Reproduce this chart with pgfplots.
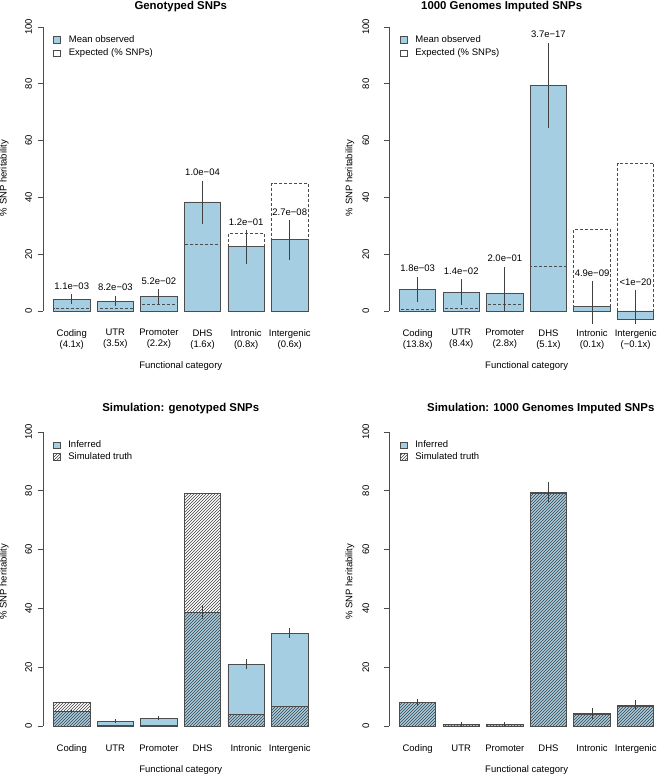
\documentclass[border=0pt]{standalone}
\usepackage{fontspec}
\setmainfont{Liberation Sans}
\usepackage{pgfplots}
\pgfplotsset{compat=1.18}
\usetikzlibrary{patterns}

\definecolor{barblue}{HTML}{A6CEE3}
\newcommand\fs{\fontsize{9.5}{11}\selectfont}
\newcommand\ts{\fontsize{11.4}{13}\selectfont\bfseries}

\pgfplotsset{
  panel/.style={
    scale only axis, width=274.7pt,
    xmin=-0.65, xmax=5.65, ymin=-5, ymax=105,
    axis line style={draw=none},
    xtick={0,...,5}, ytick={0,20,...,100},
    tick align=outside, tick pos=left,
    major tick length=5.7pt,
    x tick style={draw=none},
    y tick style={black!70, line width=0.7pt},
    font=\fs,
    /pgf/number format/assume math mode=true,
    xticklabel style={align=center, font=\fs, yshift=5pt},
    yticklabel style={rotate=90, anchor=south, inner sep=0pt, font=\fs},
    ylabel={\% SNP heritability},
    xlabel={Functional category},
    title style={font=\ts},
    every axis title shift=0pt,
    legend image code/.code={\draw[##1] (0pt,-3.3pt) rectangle (6.7pt,3.3pt); \path (15pt,0pt);},
    legend style={draw=none, fill=none, inner sep=0pt, font=\fs,
      nodes={inner sep=0pt, text height=7pt, text depth=2pt}, cells={anchor=west}},
    clip=false,
  },
  toprow/.style={height=312.4pt,
    every axis x label/.style={at={(axis description cs:0.5,-0.1296)}, anchor=center},
    every axis y label/.style={at={(axis description cs:-0.143,0.471)}, rotate=90, anchor=center},
    legend style={at={(axis description cs:0.036,0.928)}, anchor=north west, row sep=4.2pt}},
  botrow/.style={height=323.4pt,
    every axis x label/.style={at={(axis description cs:0.5,-0.0906)}, anchor=center},
    every axis y label/.style={at={(axis description cs:-0.143,0.4917)}, rotate=90, anchor=center},
    legend style={at={(axis description cs:0.034,0.9286)}, anchor=north west, row sep=2.8pt}},
  bars/.style={ybar, bar width=0.833, bar shift=0pt, line width=0.8pt, draw=black!70, forget plot},
  errs/.style={only marks, mark=none, mark size=0pt, mark options={draw=none, fill=none},
    black!75, line width=0.9pt, forget plot,
    error bars/.cd, y dir=both, y explicit, error mark=none,
    error bar style={black!75, line width=0.9pt}},
  pvals/.style={only marks, mark=none, forget plot, nodes near coords,
    point meta=explicit symbolic,
    nodes near coords style={anchor=base, inner sep=0pt, yshift=5pt, font=\fs, text=black}},
}

\begin{document}
\begin{tikzpicture}

% ---- Genotyped SNPs
\begin{axis}[panel, toprow, at={(43.4pt,449.8pt)},
  title={Genotyped SNPs},
  title style={at={(axis description cs:0.5,1.019)}, anchor=center},
  yticklabel shift=5.6pt,
  xticklabels={{Coding\\(4.1x)},{UTR\\(3.5x)},{Promoter\\(2.2x)},{DHS\\(1.6x)},{Intronic\\(0.8x)},{Intergenic\\(0.6x)}}]
\addlegendimage{fill=barblue, draw=black!70}
\addlegendentry{Mean observed}
\addlegendimage{fill=white, draw=black!70}
\addlegendentry{Expected (\% SNPs)}
\draw[black!70, line width=0.7pt] (axis cs:-0.65,0) -- (axis cs:-0.65,100);
\addplot[bars, fill=barblue] coordinates {(0,4.0) (1,3.5) (2,5.1) (3,38.4) (4,22.6) (5,25.2)};
\addplot[bars, fill=none, dash pattern=on 3pt off 2pt] coordinates {(0,1.0) (1,1.0) (2,2.2) (3,23.4) (4,27.2) (5,45.0)};
\addplot[errs] coordinates {(0,4.15) +- (0,1.75) (1,3.6) +- (0,1.8) (2,5.0) +- (0,2.6) (3,38.35) +- (0,7.55) (4,22.6) +- (0,5.9) (5,24.95) +- (0,7.05)};
\addplot[pvals] table[meta=lab] {
x y lab
0 5.9 1.1e−03
1 5.4 8.2e−03
2 7.6 5.2e−02
3 45.9 1.0e−04
4 28.5 1.2e−01
5 32.0 2.7e−08
};
\end{axis}

% ---- 1000 Genomes Imputed SNPs
\begin{axis}[panel, toprow, at={(389.3pt,449.8pt)},
  title={1000 Genomes Imputed SNPs},
  title style={at={(axis description cs:0.409,1.019)}, anchor=center},
  yticklabel shift=14.2pt,
  legend style={at={(axis description cs:0.038,0.928)}},
  xticklabels={{Coding\\(13.8x)},{UTR\\(8.4x)},{Promoter\\(2.8x)},{DHS\\(5.1x)},{Intronic\\(0.1x)},{Intergenic\\(−0.1x)}}]
\addlegendimage{fill=barblue, draw=black!70}
\addlegendentry{Mean observed}
\addlegendimage{fill=white, draw=black!70}
\addlegendentry{Expected (\% SNPs)}
\draw[black!70, line width=0.7pt] (axis cs:-0.65,0) -- (axis cs:-0.65,100);
\addplot[bars, fill=barblue] coordinates {(0,7.5) (1,6.5) (2,6.1) (3,79.3) (4,1.6) (5,-3.1)};
\addplot[bars, fill=none, dash pattern=on 3pt off 2pt] coordinates {(0,0.54) (1,0.77) (2,2.2) (3,15.6) (4,28.7) (5,52.0)};
\addplot[errs] coordinates {(0,7.55) +- (0,4.45) (1,6.6) +- (0,4.6) (2,7.75) +- (0,7.75) (3,79.5) +- (0,14.9) (4,3.0) +- (0,7.5) (5,1.4) +- (0,5.9)};
\addplot[pvals] table[meta=lab] {
x y lab
0 12.0 1.8e−03
1 11.2 1.4e−02
2 15.5 2.0e−01
3 94.4 3.7e−17
4 10.5 4.9e−09
5 7.3 <1e−20
};
\end{axis}

% ---- Simulation: genotyped SNPs
\begin{axis}[panel, botrow, at={(43.4pt,34.3pt)},
  title={Simulation: genotyped SNPs},
  title style={at={(axis description cs:0.5,1.028)}, anchor=center},
  yticklabel shift=5.6pt,
  xticklabels={Coding,UTR,Promoter,DHS,Intronic,Intergenic}]
\addlegendimage{fill=barblue, draw=black!70}
\addlegendentry{Inferred}
\addlegendimage{pattern=north east lines, pattern color=black!75, draw=black!70}
\addlegendentry{Simulated truth}
\draw[black!70, line width=0.7pt] (axis cs:-0.65,0) -- (axis cs:-0.65,100);
\addplot[bars, fill=barblue] coordinates {(0,4.9) (1,1.6) (2,2.6) (3,38.7) (4,21.0) (5,31.5)};
\addplot[bars, pattern=north east lines, pattern color=black!75] coordinates {(0,8.1) (1,0.3) (2,0.3) (3,79.1) (4,4.0) (5,6.8)};
\addplot[errs] coordinates {(0,4.95) +- (0,0.65) (1,1.65) +- (0,0.65) (2,2.65) +- (0,0.75) (3,38.75) +- (0,2.25) (4,21.1) +- (0,1.8) (5,31.55) +- (0,1.65)};
\end{axis}

% ---- Simulation: 1000 Genomes Imputed SNPs
\begin{axis}[panel, botrow, at={(389.3pt,34.3pt)},
  title={Simulation: 1000 Genomes Imputed SNPs},
  title style={at={(axis description cs:0.5515,1.028)}, anchor=center},
  yticklabel shift=14.2pt,
  legend style={at={(axis description cs:0.038,0.9286)}},
  xticklabels={Coding,UTR,Promoter,DHS,Intronic,Intergenic}]
\addlegendimage{fill=barblue, draw=black!70}
\addlegendentry{Inferred}
\addlegendimage{pattern=north east lines, pattern color=black!75, draw=black!70}
\addlegendentry{Simulated truth}
\draw[black!70, line width=0.7pt] (axis cs:-0.65,0) -- (axis cs:-0.65,100);
\addplot[bars, fill=barblue] coordinates {(0,8.1) (1,0.5) (2,0.6) (3,79.5) (4,4.2) (5,7.0)};
\addplot[bars, pattern=north east lines, pattern color=black!75] coordinates {(0,8.1) (1,0.4) (2,0.4) (3,79.1) (4,4.0) (5,6.8)};
\addplot[errs] coordinates {(0,8.05) +- (0,1.15) (1,0.5) +- (0,0.8) (2,0.55) +- (0,0.85) (3,79.6) +- (0,3.3) (4,4.15) +- (0,1.85) (5,7.05) +- (0,1.65)};
\end{axis}

\pgfresetboundingbox
\path[use as bounding box] (0,0) rectangle (656pt,775pt);
\end{tikzpicture}
\end{document}
